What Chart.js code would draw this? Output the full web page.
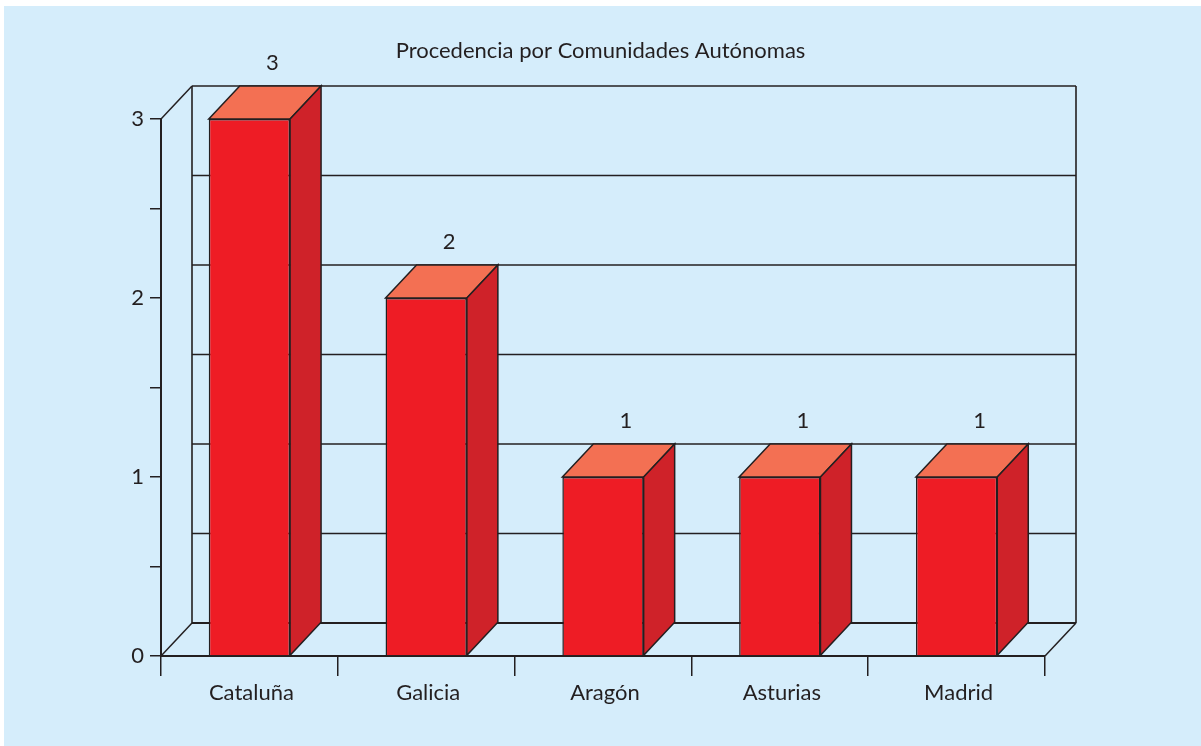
<!DOCTYPE html>
<html lang="es">
<head>
<meta charset="utf-8">
<title>Procedencia por Comunidades Autónomas</title>
<script src="https://cdn.jsdelivr.net/npm/chart.js@4/dist/chart.umd.min.js"></script>
<style>
  html, body { margin: 0; padding: 0; background: #ffffff; overflow: hidden; }
  #panel { position: absolute; left: 4px; top: 6px; width: 1197px; height: 740px; background: #d5edfb; }
  #chart { position: absolute; left: 0; top: 0; }
</style>
</head>
<body>
<div id="panel"></div>
<canvas id="chart" width="1201" height="746"></canvas>
<script>
const chartTitle = "Procedencia por Comunidades Autónomas";
const categories = ["Cataluña", "Galicia", "Aragón", "Asturias", "Madrid"];
const values = [3, 2, 1, 1, 1];
const wallLines = [0.5, 1, 1.5, 2, 2.5];

const INK = "#231f20";
const FONT = "Lato, 'Open Sans', sans-serif";
// fake 3D offset of the back wall, in px
const DEPTH_X = 31;
const DEPTH_Y = 33;

function line(ctx, x1, y1, x2, y2, width) {
  ctx.lineWidth = width;
  ctx.beginPath();
  ctx.moveTo(x1, y1);
  ctx.lineTo(x2, y2);
  ctx.stroke();
}

function face(ctx, points, fill) {
  ctx.fillStyle = fill;
  ctx.beginPath();
  points.forEach((p, i) => (i ? ctx.lineTo(p[0], p[1]) : ctx.moveTo(p[0], p[1])));
  ctx.closePath();
  ctx.fill();
  ctx.stroke();
}

// the title is centred on the whole canvas, not on the padded box
const titlePlugin = {
  id: "titleWidth",
  afterLayout(chart) {
    chart.titleBlock.left = 0;
    chart.titleBlock.right = chart.width;
    chart.titleBlock.width = chart.width;
  },
};

// back wall, floor and the slanted edges
const wallPlugin = {
  id: "wall",
  beforeDatasetsDraw(chart) {
    const { ctx, chartArea: a, scales } = chart;
    const left = a.left + DEPTH_X;
    const right = a.right + DEPTH_X;
    const top = a.top - DEPTH_Y;
    const bottom = a.bottom - DEPTH_Y;
    ctx.save();
    ctx.strokeStyle = INK;
    wallLines.forEach((v) => {
      const y = scales.y.getPixelForValue(v) - DEPTH_Y;
      line(ctx, left, y, right, y, 1.6);
    });
    line(ctx, left, top, right, top, 1.6);
    line(ctx, left, bottom, right, bottom, 2);
    line(ctx, left, top, left, bottom, 1.6);
    line(ctx, right, top, right, bottom, 1.6);
    line(ctx, a.left, a.top, left, top, 1.5);
    line(ctx, a.left, a.bottom, left, bottom, 1.5);
    line(ctx, a.right, a.bottom, right, bottom, 1.5);
    ctx.restore();
  },
};

// top and side faces of every bar, plus the value labels
const boxPlugin = {
  id: "box",
  afterDatasetsDraw(chart) {
    const { ctx } = chart;
    ctx.save();
    ctx.strokeStyle = INK;
    ctx.lineWidth = 1.5;
    ctx.lineJoin = "miter";
    chart.getDatasetMeta(0).data.forEach((bar, i) => {
      const l = bar.x - bar.width / 2;
      const r = bar.x + bar.width / 2;
      face(ctx, [[l, bar.y], [l + DEPTH_X, bar.y - DEPTH_Y], [r + DEPTH_X, bar.y - DEPTH_Y], [r, bar.y]], "#f37053");
      face(ctx, [[r, bar.y], [r + DEPTH_X, bar.y - DEPTH_Y], [r + DEPTH_X, bar.base - DEPTH_Y], [r, bar.base]], "#cf2229");
      ctx.fillStyle = INK;
      ctx.font = "22px " + FONT;
      ctx.textAlign = "center";
      ctx.textBaseline = "middle";
      ctx.fillText(String(values[i]), bar.x + 23, bar.y - 56);
    });
    ctx.restore();
  },
};

new Chart(document.getElementById("chart"), {
  type: "bar",
  data: {
    labels: categories,
    datasets: [
      {
        data: values,
        backgroundColor: "#ee1c25",
        borderColor: INK,
        borderWidth: 1.5,
        categoryPercentage: 1,
        barPercentage: 0.46,
        clip: false,
      },
    ],
  },
  options: {
    responsive: false,
    animation: false,
    layout: { padding: { left: 0, right: 156, bottom: 30 } },
    plugins: {
      legend: { display: false },
      tooltip: { enabled: false },
      title: {
        display: true,
        text: chartTitle,
        color: INK,
        font: { family: FONT, size: 22, weight: "normal", lineHeight: 1.2 },
        padding: { top: 38, bottom: 54.6 },
      },
    },
    scales: {
      x: {
        // labels get clipped to the scale box, so it has to be tall enough
        afterFit(scale) {
          scale.height = 60;
        },
        grid: {
          offset: true,
          drawOnChartArea: false,
          drawTicks: true,
          tickLength: 20,
          color: INK,
          lineWidth: 1.5,
        },
        border: { display: true, color: INK, width: 2 },
        ticks: {
          color: INK,
          padding: 4,
          labelOffset: 2,
          font: { family: FONT, size: 22 },
          maxRotation: 0,
        },
      },
      y: {
        min: 0,
        max: 3,
        afterFit(scale) {
          scale.width = 161;
        },
        grid: {
          drawOnChartArea: false,
          drawTicks: true,
          tickLength: 11,
          color: INK,
          lineWidth: 1.5,
        },
        border: { display: true, color: INK, width: 2 },
        ticks: {
          stepSize: 0.5,
          color: INK,
          padding: 6,
          font: { family: FONT, size: 22 },
          callback: (v) => (Number.isInteger(v) ? String(v) : ""),
        },
      },
    },
  },
  plugins: [titlePlugin, wallPlugin, boxPlugin],
});
</script>
</body>
</html>
